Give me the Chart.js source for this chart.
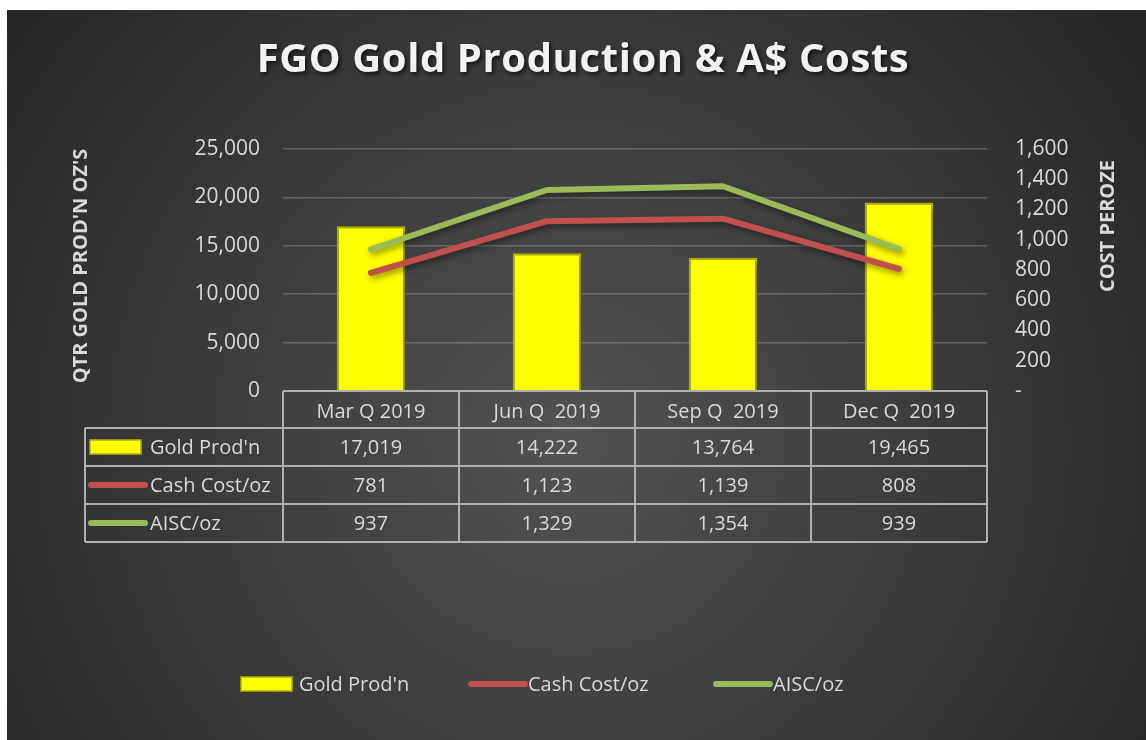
<!DOCTYPE html>
<html>
<head>
<meta charset="utf-8">
<script src="https://cdn.jsdelivr.net/npm/chart.js@4.4.0/dist/chart.umd.min.js"></script>
<style>
body { margin: 0; background: #fff; }
#wrap { position: relative; width: 1146px; height: 740px; }
</style>
</head>
<body>
<div id="wrap"><canvas id="c" width="1146" height="740"></canvas></div>
<script>
// chart data
var quarters = ['Mar Q 2019', 'Jun Q  2019', 'Sep Q  2019', 'Dec Q  2019'];
var goldProd = [17019, 14222, 13764, 19465];
var cashCost = [781, 1123, 1139, 808];
var aisc = [937, 1329, 1354, 939];
var seriesNames = ["Gold Prod'n", 'Cash Cost/oz', 'AISC/oz'];
var prodTicks = [0, 25000, 5000];   // min, max, step
var costTicks = [0, 1600, 200];

var chartTitle = 'FGO Gold Production & A$ Costs';
var leftTitle = "QTR GOLD PROD'N OZ'S";
var rightTitle = 'COST PEROZE';

var textColor = '#d9d9d9';
var lineColor = '#b0b0b0';
var font = '"Open Sans", "Noto Sans", sans-serif';
var legendX = [239, 468, 713]; // where each bottom legend key starts

function fmt(v) { return v.toLocaleString('en-US'); }

// legend key: box for the bars, thick line for the cost series
function drawKey(ctx, i, x, yc) {
    ctx.save();
    if (i == 0) {
        ctx.fillStyle = '#ffff00';
        ctx.strokeStyle = '#b0b000';
        ctx.lineWidth = 1.5;
        ctx.fillRect(x + 2, yc - 7, 51, 14);
        ctx.strokeRect(x + 2, yc - 7, 51, 14);
    } else {
        ctx.strokeStyle = i == 1 ? '#c0504d' : '#9bbb59';
        ctx.lineWidth = 6;
        ctx.lineCap = 'round';
        ctx.beginPath();
        ctx.moveTo(x + 3, yc);
        ctx.lineTo(x + 57, yc);
        ctx.stroke();
    }
    ctx.restore();
}

var fgoPlugin = {
    id: 'fgo',
    beforeDraw: function (chart) {
        var ctx = chart.ctx;
        ctx.save();
        ctx.fillStyle = '#ffffff';
        ctx.fillRect(0, 0, chart.width, chart.height);
        var g = ctx.createRadialGradient(570, 440, 0, 570, 440, 760);
        g.addColorStop(0, '#525252');
        g.addColorStop(1, '#222222');
        ctx.fillStyle = g;
        ctx.fillRect(7, 10, chart.width - 7, chart.height - 10);
        ctx.restore();
    },
    beforeDatasetDraw: function (chart) {
        var ctx = chart.ctx;
        ctx.save();
        ctx.shadowColor = 'rgba(0,0,0,0.45)';
        ctx.shadowBlur = 6;
        ctx.shadowOffsetX = 2;
        ctx.shadowOffsetY = 3;
    },
    afterDatasetDraw: function (chart) {
        chart.ctx.restore();
    },
    afterDraw: function (chart) {
        var ctx = chart.ctx;
        var area = chart.chartArea;
        ctx.save();

        // title
        ctx.save();
        ctx.font = 'bold 40px ' + font;
        ctx.letterSpacing = '0.6px';
        ctx.fillStyle = '#f2f2f2';
        ctx.textAlign = 'center';
        ctx.textBaseline = 'alphabetic';
        ctx.shadowColor = 'rgba(0,0,0,0.7)';
        ctx.shadowBlur = 4;
        ctx.shadowOffsetX = 2;
        ctx.shadowOffsetY = 2;
        ctx.fillText(chartTitle, 583, 72);
        ctx.restore();

        // axis titles
        ctx.font = 'bold 20px ' + font;
        ctx.fillStyle = textColor;
        ctx.textAlign = 'center';
        ctx.textBaseline = 'middle';
        ctx.save();
        ctx.translate(81, 266);
        ctx.rotate(-Math.PI / 2);
        ctx.fillText(leftTitle, 0, 0);
        ctx.restore();
        ctx.save();
        ctx.translate(1108, 226);
        ctx.rotate(-Math.PI / 2);
        ctx.fillText(rightTitle, 0, 0);
        ctx.restore();

        // data table under the plot
        var colW = (area.right - area.left) / quarters.length;
        var top = area.bottom;
        var headH = 37, rowH = 38;
        var tableLeft = 85;
        var bottom = top + headH + rowH * 3;
        ctx.strokeStyle = lineColor;
        ctx.lineWidth = 2;
        ctx.beginPath();
        ctx.moveTo(area.left, top); ctx.lineTo(area.right, top);
        for (var r = 0; r <= 3; r++) {
            var yy = top + headH + r * rowH;
            ctx.moveTo(tableLeft, yy); ctx.lineTo(area.right, yy);
        }
        for (var c = 0; c <= quarters.length; c++) {
            var xx = area.left + c * colW;
            ctx.moveTo(xx, top); ctx.lineTo(xx, bottom);
        }
        ctx.moveTo(tableLeft, top + headH); ctx.lineTo(tableLeft, bottom);
        ctx.stroke();

        var rows = [goldProd, cashCost, aisc];
        ctx.font = '20px ' + font;
        ctx.fillStyle = textColor;
        ctx.textBaseline = 'alphabetic';
        ctx.textAlign = 'center';
        for (var q = 0; q < quarters.length; q++) {
            var cx = chart.scales.x.getPixelForValue(q);
            ctx.fillText(quarters[q], cx, top + headH / 2 + 8);
            for (var k = 0; k < rows.length; k++) {
                ctx.fillText(fmt(rows[k][q]), cx, top + headH + k * rowH + rowH / 2 + 7);
            }
        }
        for (var k = 0; k < seriesNames.length; k++) {
            var yc = top + headH + k * rowH + rowH / 2;
            drawKey(ctx, k, 88, yc);
            ctx.fillStyle = textColor;
            ctx.textAlign = 'left';
            ctx.fillText(seriesNames[k], 150, yc + 7);
        }

        // bottom legend
        for (var k = 0; k < seriesNames.length; k++) {
            drawKey(ctx, k, legendX[k], 684);
            ctx.fillStyle = textColor;
            ctx.textAlign = 'left';
            ctx.fillText(seriesNames[k], legendX[k] + 60, 691);
        }
        ctx.restore();
    }
};

var ctx = document.getElementById('c').getContext('2d');
var chart = new Chart(ctx, {
    type: 'bar',
    data: {
        labels: quarters,
        datasets: [
            {
                type: 'line',
                label: seriesNames[2],
                data: aisc,
                yAxisID: 'y1',
                borderColor: '#9bbb59',
                borderWidth: 6,
                borderCapStyle: 'round',
                borderJoinStyle: 'round',
                pointRadius: 0,
                fill: false,
                tension: 0,
                order: 1
            },
            {
                type: 'line',
                label: seriesNames[1],
                data: cashCost,
                yAxisID: 'y1',
                borderColor: '#c0504d',
                borderWidth: 6,
                borderCapStyle: 'round',
                borderJoinStyle: 'round',
                pointRadius: 0,
                fill: false,
                tension: 0,
                order: 2
            },
            {
                label: seriesNames[0],
                data: goldProd,
                yAxisID: 'y',
                backgroundColor: '#ffff00',
                borderColor: '#b5b500',
                borderWidth: 2,
                categoryPercentage: 1,
                barPercentage: 0.39,
                order: 3
            }
        ]
    },
    options: {
        responsive: false,
        animation: false,
        layout: { padding: { top: 149, bottom: 349, left: 0, right: 0 } },
        plugins: {
            legend: { display: false },
            tooltip: { enabled: false },
            title: { display: false }
        },
        scales: {
            x: { display: false },
            y: {
                position: 'left',
                min: prodTicks[0],
                max: prodTicks[1],
                border: { display: false },
                grid: {
                    color: function (c) { return c.tick.value == 0 ? 'rgba(0,0,0,0)' : 'rgba(200,200,200,0.3)'; },
                    lineWidth: 1.5,
                    drawTicks: false
                },
                ticks: {
                    stepSize: prodTicks[2],
                    padding: 23,
                    color: textColor,
                    font: { family: font, size: 21 },
                    callback: function (v) { return fmt(v); }
                },
                afterFit: function (s) { s.width = 283; }
            },
            y1: {
                position: 'right',
                min: costTicks[0],
                max: costTicks[1],
                border: { display: false },
                grid: { drawOnChartArea: false, drawTicks: false },
                ticks: {
                    stepSize: costTicks[2],
                    autoSkip: false,
                    padding: 28,
                    color: textColor,
                    font: { family: font, size: 21 },
                    callback: function (v) { return v == 0 ? '-' : fmt(v); }
                },
                afterFit: function (s) { s.width = 159; }
            }
        }
    },
    plugins: [fgoPlugin]
});
</script>
</body>
</html>
